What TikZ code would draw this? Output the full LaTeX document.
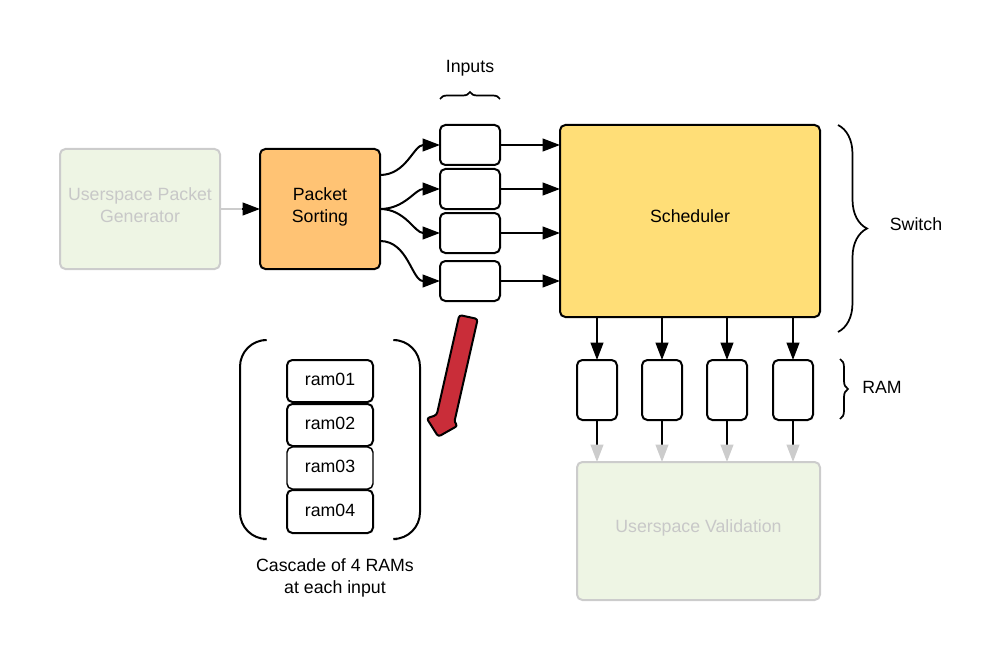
\documentclass[tikz,border=0pt]{standalone}
\usepackage{fontspec}
\setmainfont{Liberation Sans}
\usetikzlibrary{arrows.meta,decorations.pathreplacing,calc}
\definecolor{gfill}{HTML}{EEF5E4}
\definecolor{gline}{HTML}{CCCCCC}
\definecolor{gtext}{HTML}{C8C8C8}
\definecolor{orfill}{HTML}{FFC374}
\definecolor{yefill}{HTML}{FFDE77}
\definecolor{redfill}{HTML}{C92D39}
\newdimen\px \px=0.75pt
\tikzset{
  box/.style={draw=black, line width=1.5pt, rounded corners=4pt, fill=white, inner sep=0pt, outer sep=0pt, align=center},
  ghost/.style={draw=gline, line width=1.5pt, rounded corners=4pt, fill=gfill, inner sep=0pt, outer sep=0pt, align=center},
  arr/.style={line width=1.5pt, -{Triangle[length=13pt,width=9.5pt]}},
  garr/.style={line width=1.5pt, -{Triangle[length=13pt,width=9.5pt,color=gline]}},
  brc/.style={line width=1.3pt, decorate, decoration={brace}},
  lbl/.style={inner sep=0pt, align=center},
  glbl/.style={inner sep=0pt, align=center, text=gtext},
}
\begin{document}
\begin{tikzpicture}[x=0.75pt,y=-0.75pt, font=\fontsize{13.3}{16.5}\selectfont]
\useasboundingbox (0,0) rectangle (1001,660);
% main nodes
\node[ghost, minimum width=160\px, minimum height=120\px,
  label={[glbl,yshift=3pt]center:{Userspace Packet\\Generator}}] (gen) at (140,209) {};
\node[box, fill=orfill, minimum width=120\px, minimum height=120\px,
  label={[lbl,yshift=1.5pt]center:{Packet\\Sorting}}] (ps) at (320,209) {};
\node[box, minimum width=60\px, minimum height=40\px] (in1) at (470,145) {};
\node[box, minimum width=60\px, minimum height=40\px] (in2) at (470,189) {};
\node[box, minimum width=60\px, minimum height=40\px] (in3) at (470,233) {};
\node[box, minimum width=60\px, minimum height=40\px] (in4) at (470,281) {};
\node[box, fill=yefill, minimum width=260\px, minimum height=192\px] (sch) at (690,221) {};
\node[lbl] (schl) at (690,216) {Scheduler};
\node[box, minimum width=40\px, minimum height=60\px] (r1) at (597,390) {};
\node[box, minimum width=40\px, minimum height=60\px] (r2) at (662,390) {};
\node[box, minimum width=40\px, minimum height=60\px] (r3) at (727,390) {};
\node[box, minimum width=40\px, minimum height=60\px] (r4) at (793,390) {};
\node[ghost, minimum width=243\px, minimum height=138\px,
  label={[glbl,yshift=2.25pt]center:Userspace Validation}] (val) at (698.5,531) {};
% cascade
\node[box, minimum width=86\px, minimum height=42\px, label={[lbl,yshift=1.1pt]center:ram01}] (m1) at (330,381) {};
\node[box, minimum width=86\px, minimum height=42\px, label={[lbl,yshift=1.1pt]center:ram02}] (m2) at (330,425) {};
\node[box, line width=1.1pt, minimum width=86\px, minimum height=42\px, label={[lbl,yshift=1.1pt]center:ram03}] (m3) at (330,468) {};
\node[box, minimum width=86\px, minimum height=43\px, label={[lbl,yshift=1.1pt]center:ram04}] (m4) at (330,511.5) {};
% labels
\node[lbl] (linp) at (470,68) {Inputs};
\node[lbl] (lsw) at (916,224) {Switch};
\node[lbl] (lram) at (882,387) {RAM};
\node[lbl] (lcas) at (335,578) {Cascade of 4 RAMs\\at each input};
% connectors
\draw[line width=1.5pt, gline] (gen.east) -- ($(ps.west)+(-14,0)$);
\draw[arr] ($(ps.west)+(-18,0)$) coordinate (gtip) -- (ps.west);
\draw[arr] ([shift={(0,-34)}]ps.east) to[out=0,in=180] (in1.west);
\draw[arr] (ps.east) to[out=0,in=180] (in2.west);
\draw[arr] (ps.east) to[out=0,in=180] (in3.west);
\draw[arr] ([shift={(0,32)}]ps.east) to[out=0,in=180] (in4.west);
\foreach \i in {1,2,3,4}{
  \draw[arr] (in\i.east) -- (in\i.east -| sch.west);
  \draw[arr] (r\i.north |- sch.south) -- (r\i.north);
  \draw[garr] (r\i.south) -- (r\i.south |- val.north);
}
% braces
\draw[brc, decoration={amplitude=7\px}] (440,99) -- (500,99);
\draw[brc, decoration={amplitude=29\px}] (838,125) -- (838,332);
\draw[brc, decoration={amplitude=8\px}] (840,359) -- (840,419);
% parentheses
\draw[line width=1.5pt, rounded corners=20pt] (263,340) -- (240,340) -- (240,539) -- (263,539);
\draw[line width=1.5pt, rounded corners=20pt] (397,340) -- (420,340) -- (420,539) -- (397,539);
% red arrow
\draw[line width=1.5pt, fill=redfill, rounded corners=2pt, line join=round]
  (459.3,315) -- (477.7,319) -- (454.3,422.3) -- (457.7,425.7) -- (438.3,436.7) -- (426.7,418.3) -- (436.7,415) -- cycle;
\end{tikzpicture}
\end{document}
